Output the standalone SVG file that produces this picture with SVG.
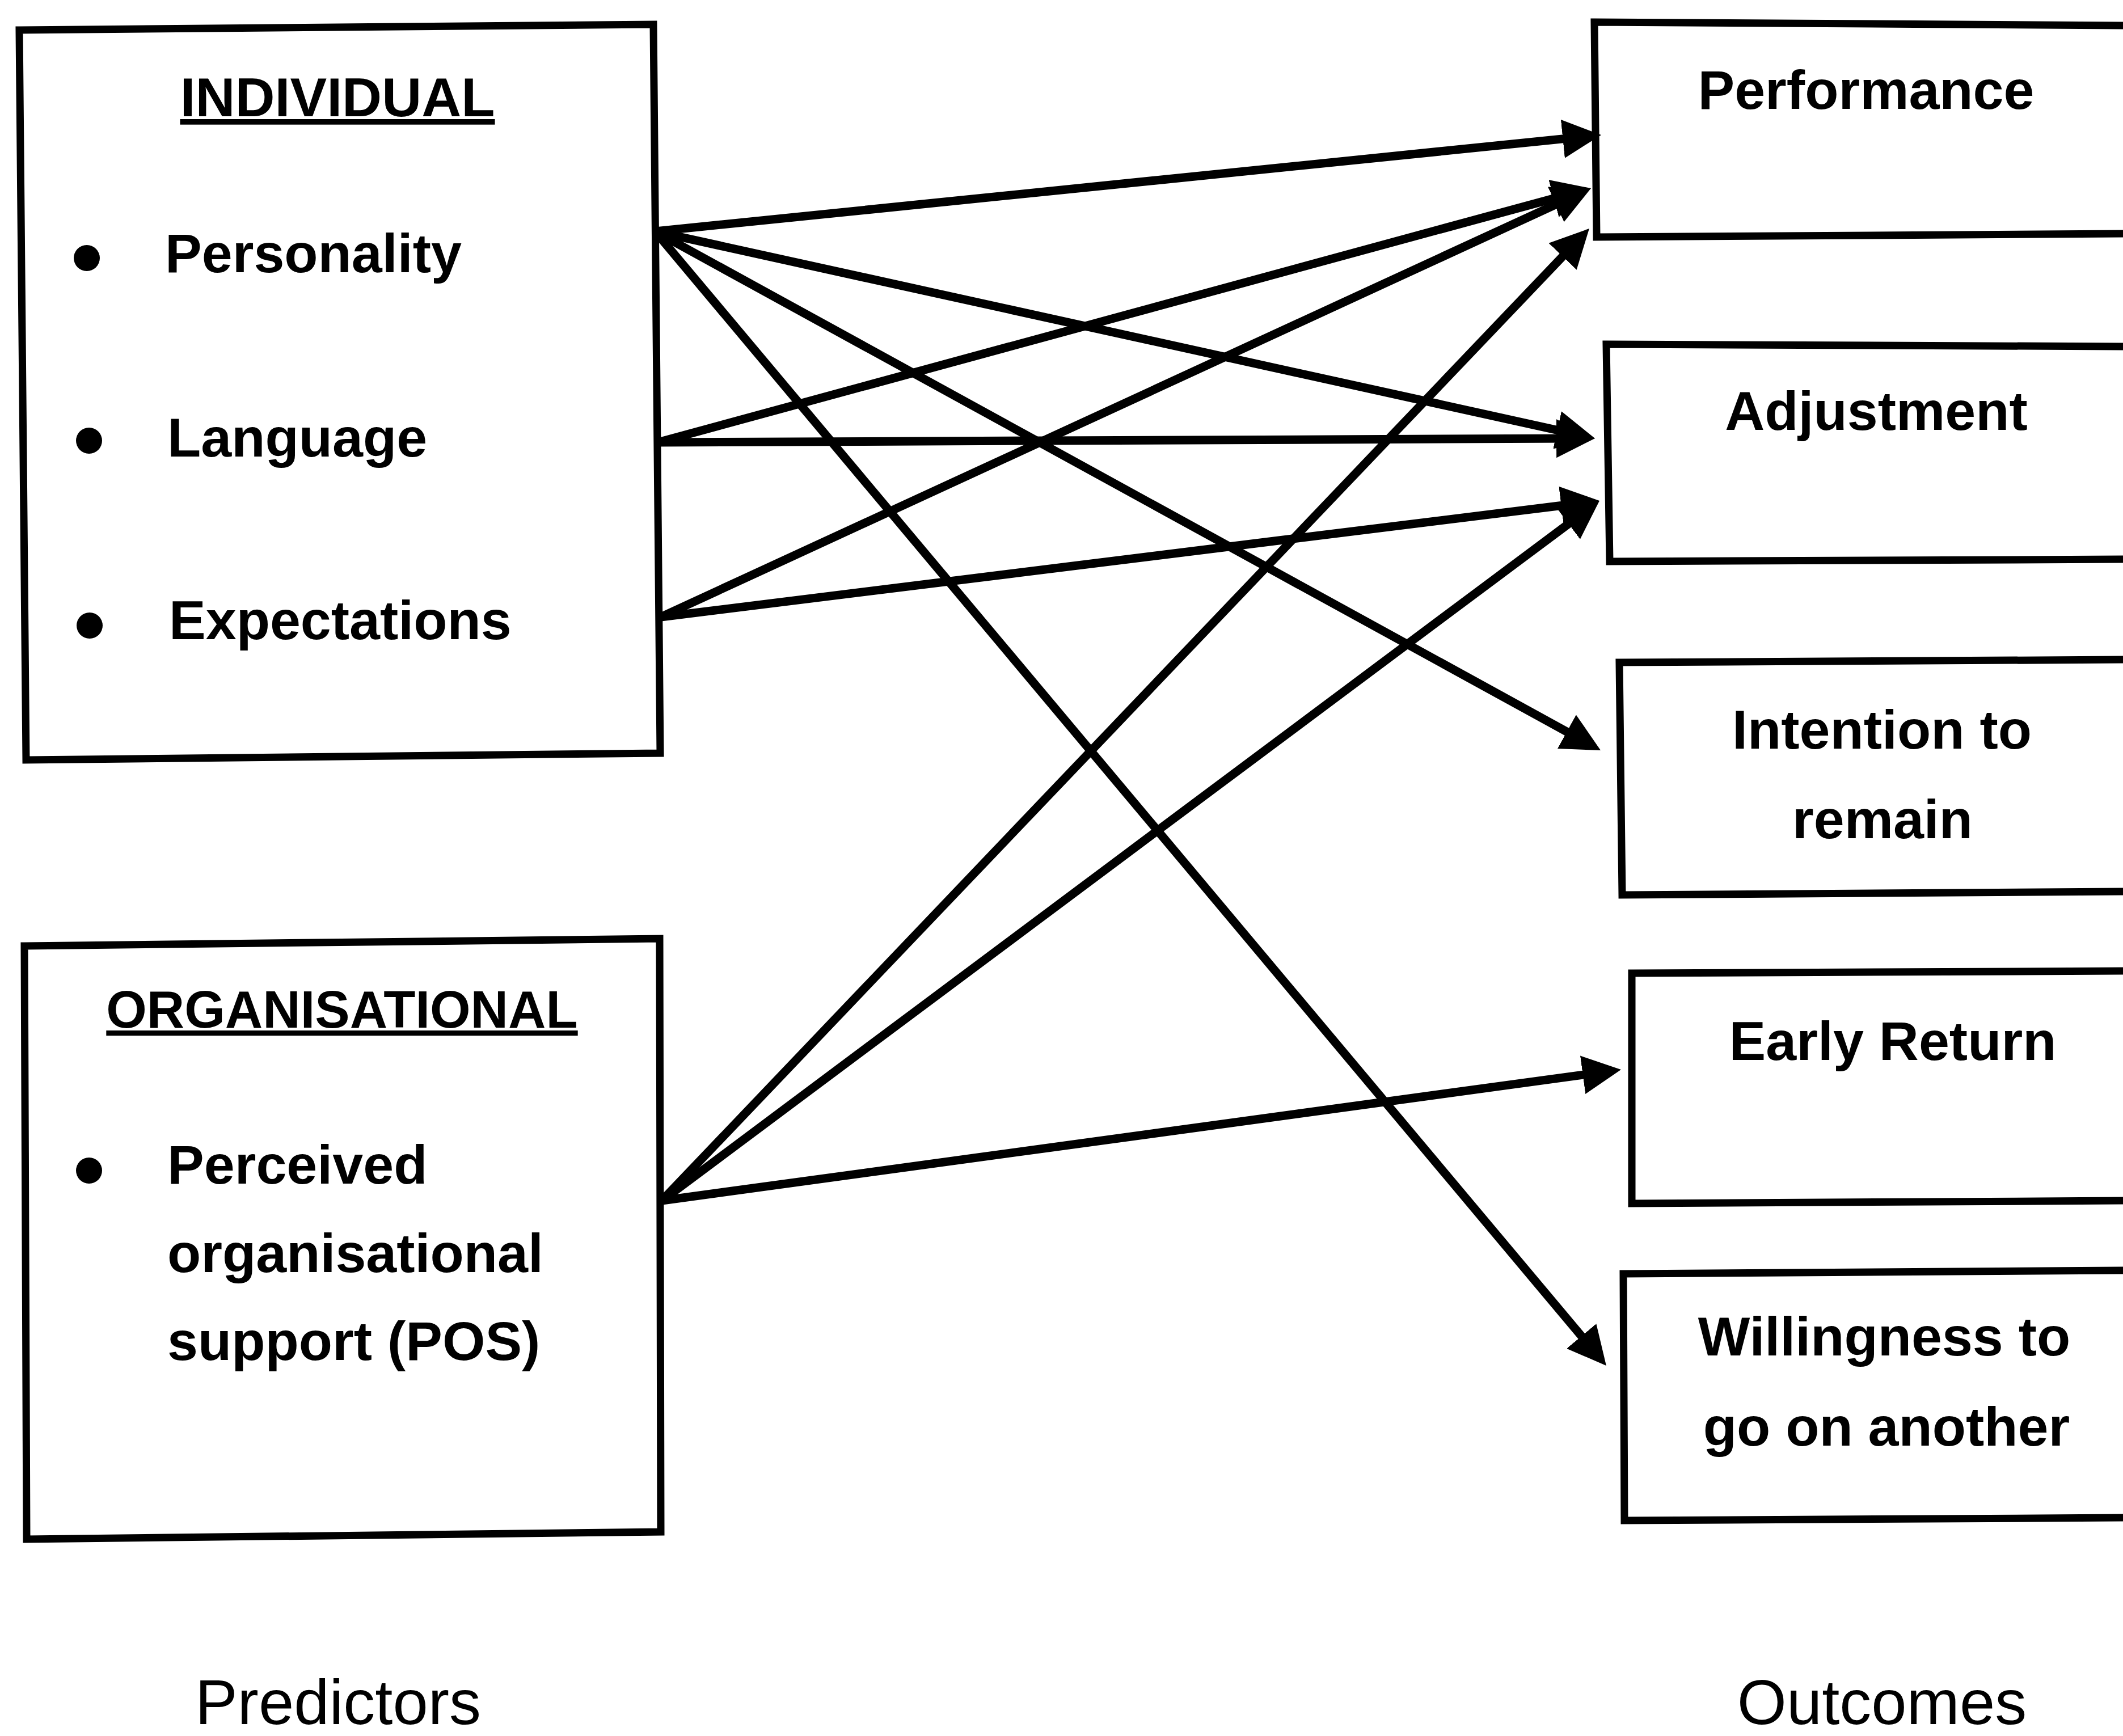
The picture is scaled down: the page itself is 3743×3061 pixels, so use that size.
<svg xmlns="http://www.w3.org/2000/svg" width="3743" height="3061" viewBox="0 0 3743 3061">
<style>
.box{fill:#fff;stroke:#000;stroke-width:13;stroke-linejoin:miter}
.conn{fill:none;stroke:#000;stroke-width:15;marker-end:url(#arrow)}
.b{font-family:'Liberation Sans',Arial,sans-serif;font-weight:bold;font-size:97px;fill:#000}
.hd{font-family:'Liberation Sans',Arial,sans-serif;font-weight:bold;fill:#000;text-decoration:underline;text-anchor:middle}
.c{text-anchor:middle}
.lbl{font-family:'Liberation Sans',Arial,sans-serif;font-size:112px;fill:#000;text-anchor:middle}
.dot{fill:#000}
</style>
<defs>
<marker id="arrow" markerUnits="userSpaceOnUse" viewBox="0 0 68 68" markerWidth="68" markerHeight="68" refX="34" refY="34" orient="auto">
<path d="M0,0 L68,34 L0,68 Z" fill="#000"/>
</marker>
</defs>
<rect width="3743" height="3061" fill="#fff"/>

<g id="individual">
<polygon class="box" points="34,53 1152,43 1164,1328 46,1340"/>
<text class="hd" x="595" y="205" font-size="97">INDIVIDUAL</text>
<circle class="dot" cx="153" cy="455" r="23"/>
<text class="b" x="291" y="480">Personality</text>
<circle class="dot" cx="157" cy="777" r="23"/>
<text class="b" x="295" y="805">Language</text>
<circle class="dot" cx="158" cy="1103" r="23"/>
<text class="b" x="298" y="1127">Expectations</text>
</g>

<g id="organisational">
<polygon class="box" points="43,1668 1163,1655 1165,2701 47,2714"/>
<text class="hd" x="603" y="1812" font-size="92">ORGANISATIONAL</text>
<circle class="dot" cx="157" cy="2064" r="23"/>
<text class="b" x="295" y="2087">Perceived</text>
<text class="b" x="295" y="2243">organisational</text>
<text class="b" x="295" y="2398">support (POS)</text>
</g>

<g id="performance">
<polygon class="box" points="2811,39 3760,45 3760,412 2815,418"/>
<text class="b c" x="3290" y="192">Performance</text>
</g>
<g id="adjustment">
<polygon class="box" points="2832,607 3760,611 3760,986 2838,990"/>
<text class="b c" x="3308" y="758">Adjustment</text>
</g>
<g id="intention">
<polygon class="box" points="2855,1168 3760,1163 3760,1572 2860,1578"/>
<text class="b c" x="3318" y="1320">Intention to</text>
<text class="b c" x="3319" y="1478">remain</text>
</g>
<g id="early-return">
<polygon class="box" points="2877,1716 3760,1712 3760,2117 2877,2122"/>
<text class="b c" x="3337" y="1869">Early Return</text>
</g>
<g id="willingness">
<polygon class="box" points="2862,2246 3760,2240 3760,2676 2864,2681"/>
<text class="b c" x="3322" y="2390">Willingness to</text>
<text class="b c" x="3326" y="2549">go on another</text>
</g>

<g id="predictors-label">
<text class="lbl" x="596" y="3040">Predictors</text>
</g>
<g id="outcomes-label">
<text class="lbl" x="3318" y="3040">Outcomes</text>
</g>

<g id="connectors">
<path class="conn" d="M1155,408 L2789.2,241.4"/>
<path class="conn" d="M1155,408 L2778.8,765.7"/>
<path class="conn" d="M1155,408 L2792.2,1306.6"/>
<path class="conn" d="M1155,408 L2810.1,2382"/>
<path class="conn" d="M1160,780 L2772.2,340.9"/>
<path class="conn" d="M1160,780 L2778,773.1"/>
<path class="conn" d="M1165,1088 L2774.1,346.2"/>
<path class="conn" d="M1165,1088 L2786.3,887.2"/>
<path class="conn" d="M1167,2117 L2778.5,427.6"/>
<path class="conn" d="M1167,2117 L2792.7,903.3"/>
<path class="conn" d="M1167,2117 L2824.3,1890.6"/>
</g>
</svg>
